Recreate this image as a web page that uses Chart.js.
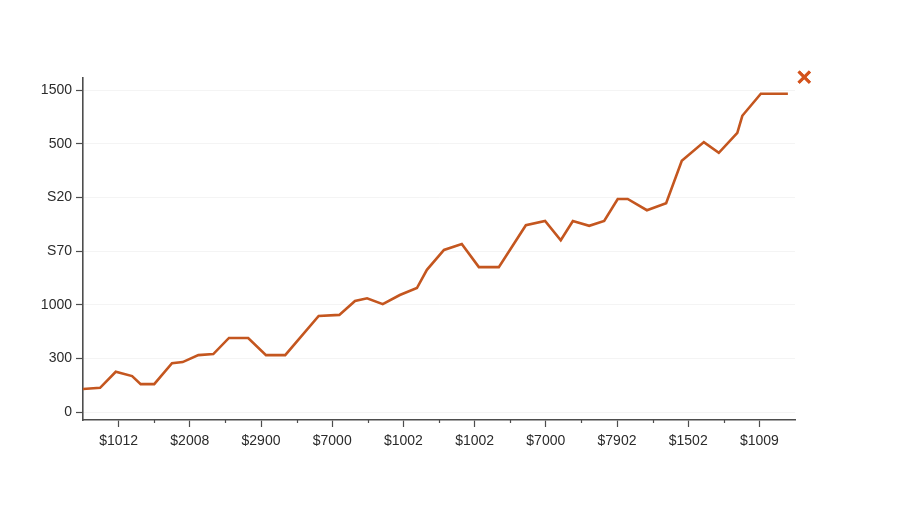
<!DOCTYPE html>
<html>
<head>
<meta charset="utf-8">
<title>Line chart</title>
<script src="https://cdn.jsdelivr.net/npm/chart.js@4.4.1/dist/chart.umd.min.js"></script>
<style>
    html, body { margin: 0; padding: 0; background: #fff; }
    #wrap { width: 900px; height: 506px; position: relative; }
</style>
</head>
<body>
<div id="wrap"><canvas id="line-chart"></canvas></div>
<script>
// tick labels as printed on the axes
var xTickLabels = ["$1012", "$2008", "$2900", "$7000", "$1002", "$1002", "$7000", "$7902", "$1502", "$1009"];
var yTickLabels = ["0", "300", "1000", "S70", "S20", "500", "1500"];

// line vertices (x in tick units, y in tick steps)
var xValues = [-0.5, -0.26, -0.04, 0.19, 0.31, 0.50, 0.75, 0.90, 1.12, 1.33,
    1.55, 1.82, 2.07, 2.34, 2.81, 3.10, 3.32, 3.49, 3.71, 3.95,
    4.19, 4.33, 4.57, 4.82, 5.06, 5.34, 5.72, 5.99, 6.21, 6.38,
    6.61, 6.82, 7.01, 7.15, 7.42, 7.69, 7.91, 8.22, 8.43, 8.69,
    8.76, 9.02, 9.40];
var yValues = [0.43, 0.45, 0.75, 0.67, 0.52, 0.52, 0.91, 0.93, 1.06, 1.08,
    1.38, 1.38, 1.06, 1.06, 1.79, 1.81, 2.07, 2.12, 2.01, 2.18,
    2.31, 2.65, 3.02, 3.13, 2.70, 2.70, 3.48, 3.56, 3.20, 3.56,
    3.47, 3.56, 3.97, 3.97, 3.76, 3.89, 4.68, 5.03, 4.83, 5.20,
    5.52, 5.93, 5.93];

// the lone marker at the top right, just outside the axes
var markX = [9.63];
var markY = [6.24];

var lineColor = "#c4561f";
var axisColor = "#4d4d4d";

var linePoints = xValues.map(function (x, i) { return { x: x, y: yValues[i] }; });
var markPoints = markX.map(function (x, i) { return { x: x, y: markY[i] }; });

// short ticks half way between the labelled ones
var minorTicks = {
    id: "minorTicks",
    afterDraw: function (chart) {
        var sx = chart.scales.x;
        var c = chart.ctx;
        c.save();
        c.strokeStyle = axisColor;
        c.lineWidth = 1.2;
        for (var i = 0; i < xTickLabels.length - 1; i++) {
            var px = Math.round(sx.getPixelForValue(i + 0.5)) + 0.5;
            c.beginPath();
            c.moveTo(px, sx.top);
            c.lineTo(px, sx.top + 3);
            c.stroke();
        }
        c.restore();
    }
};

// chart.js skips points that sit outside the chart area, so draw the marker's own element again
var outsideMarker = {
    id: "outsideMarker",
    afterDatasetsDraw: function (chart) {
        var meta = chart.getDatasetMeta(1);
        var whole = { left: 0, top: 0, right: chart.width, bottom: chart.height };
        meta.data.forEach(function (pt) { pt.draw(chart.ctx, whole); });
    }
};

var ctx = document.getElementById("line-chart");
var myChart = new Chart(ctx, {
    type: "line",
    data: {
        datasets: [
            {
                data: linePoints,
                borderColor: lineColor,
                borderWidth: 2.6,
                pointRadius: 0,
                tension: 0,
                fill: false
            },
            {
                type: "scatter",
                data: markPoints,
                pointStyle: "crossRot",
                pointRadius: 8,
                borderColor: "#d4531c",
                borderWidth: 3,
                clip: false
            }
        ]
    },
    options: {
        responsive: true,
        maintainAspectRatio: false,
        animation: false,
        layout: { padding: { top: 78, right: 105, left: 0, bottom: 0 } },
        plugins: {
            legend: { display: false },
            tooltip: { enabled: false }
        },
        scales: {
            x: {
                type: "linear",
                bounds: "data",
                afterDataLimits: function (s) { s.min = -0.5; s.max = 9.5; },
                afterFit: function (s) { s.height = 86; },
                afterBuildTicks: function (s) {
                    s.ticks = xTickLabels.map(function (_, i) { return { value: i }; });
                },
                ticks: {
                    callback: function (v) { return xTickLabels[v]; },
                    color: "#2b2b2b",
                    font: { family: "'Liberation Sans', Arial, sans-serif", size: 14 },
                    padding: 6,
                    maxRotation: 0,
                    autoSkip: false
                },
                grid: {
                    drawOnChartArea: false,
                    tickColor: axisColor,
                    tickLength: 7,
                    tickWidth: 1.2
                },
                border: { color: axisColor, width: 1.6 }
            },
            y: {
                type: "linear",
                bounds: "data",
                afterDataLimits: function (s) { s.min = -0.149; s.max = 6.224; },
                afterFit: function (s) { s.width = 83; },
                afterBuildTicks: function (s) {
                    s.ticks = yTickLabels.map(function (_, i) { return { value: i }; });
                },
                ticks: {
                    callback: function (v) { return yTickLabels[v]; },
                    color: "#2b2b2b",
                    font: { family: "'Liberation Sans', Arial, sans-serif", size: 14 },
                    padding: 4,
                    autoSkip: false
                },
                grid: {
                    color: "#f4f4f4",
                    lineWidth: 1,
                    tickColor: axisColor,
                    tickLength: 7,
                    tickWidth: 1.2
                },
                border: { color: axisColor, width: 1.6 }
            }
        }
    },
    plugins: [minorTicks, outsideMarker]
});
</script>
</body>
</html>
